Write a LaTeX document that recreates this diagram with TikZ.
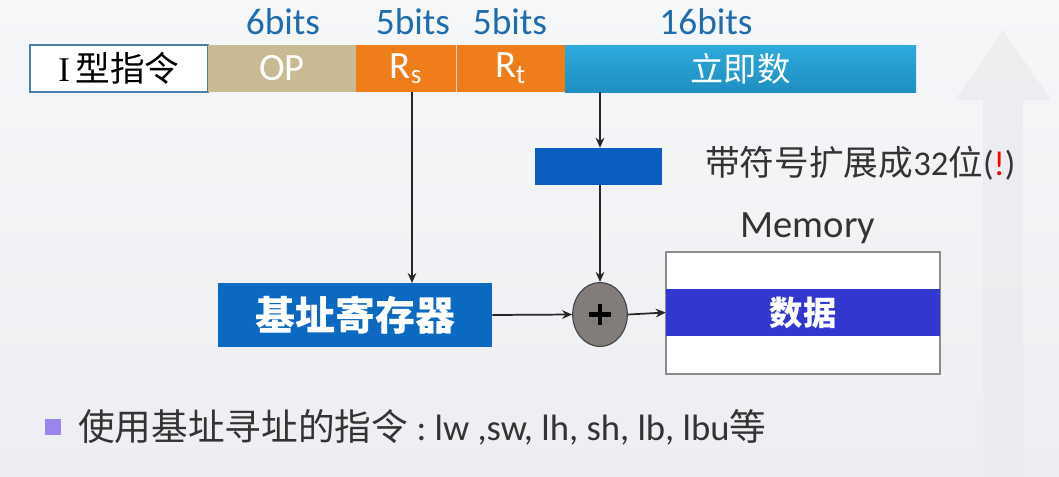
\documentclass[tikz,border=0pt]{standalone}
\usepackage{fontspec}
\setmainfont{Carlito}
\newfontfamily\cjk{Noto Sans CJK SC}
\newfontfamily\serifI{Liberation Serif}
\usetikzlibrary{arrows.meta,shapes.geometric}
\definecolor{bgtop}{HTML}{F6F7F9}
\definecolor{bgbot}{HTML}{EDEEF1}
\definecolor{bitblue}{HTML}{1F6CAE}
\definecolor{opkhaki}{HTML}{C8BA92}
\definecolor{rorange}{HTML}{EF7D1A}
\definecolor{immtop}{HTML}{2EAADC}
\definecolor{immbot}{HTML}{1F8EC0}
\definecolor{extblue}{HTML}{0B5EC0}
\definecolor{regblue}{HTML}{0B69C1}
\definecolor{datablue}{HTML}{3137CF}
\definecolor{plusgray}{HTML}{827C7A}
\definecolor{txt}{HTML}{333333}
\definecolor{bulletc}{HTML}{9B83F0}
\definecolor{iborder}{HTML}{4A7FA8}
\definecolor{wmark}{HTML}{E9EBEE}
\tikzset{
  field/.style={rectangle, inner sep=0pt, outer sep=0pt, minimum height=35.25pt, text=white, font=\fontsize{29}{30}\selectfont},
  bitlbl/.style={text=bitblue, font=\fontsize{28}{30}\selectfont, inner sep=0pt},
  conn/.style={line width=1.3pt, draw=black!85, -{Stealth[length=7.5pt,width=6.5pt]}},
}
\begin{document}
\begin{tikzpicture}[x=0.75pt,y=-0.75pt]
\shade[top color=bgtop,bottom color=bgbot] (0,0) rectangle (1059,476);
\useasboundingbox (0,0) rectangle (1059,476);
% faint watermark arrow
\fill[wmark, opacity=0.7] (983,476) -- (983,100) -- (955,100) -- (1003,30) -- (1051,100) -- (1023,100) -- (1023,476) -- cycle;
% instruction fields
\node[field, draw=iborder, line width=1pt, fill=white, text=black, minimum width=133.5pt, font=\fontsize{26}{28}\selectfont] (itype) at (119,68.5) {{\serifI I}\,\cjk 型指令};
\node[field, fill=opkhaki, minimum width=111pt] (op) at (282,68.5) {OP};
\node[field, fill=rorange, minimum width=75pt] (rs) at (406,68.5) {R\textsubscript{s}};
\node[field, fill=rorange, minimum width=81.75pt] (rt) at (510.5,68.5) {R\textsubscript{t}};
\node[field, top color=immtop, bottom color=immbot, minimum width=263.25pt, font=\cjk\fontsize{25}{27}\selectfont] (imm) at (740.5,68.5) {立即数};
\draw[white!85!black, line width=0.6pt] (rt.north west) -- (rt.south west);
% bit labels
\node[bitlbl] (b6) at (283,22) {6bits};
\node[bitlbl] (b5a) at (413,22) {5bits};
\node[bitlbl] (b5b) at (510,22) {5bits};
\node[bitlbl] (b16) at (706,22) {16bits};
% sign extension box
\node[rectangle, fill=extblue, minimum width=95.25pt, minimum height=27.75pt, inner sep=0pt] (ext) at (598.5,166.5) {};
\node[anchor=west, text=txt, inner sep=0pt, font=\fontsize{26}{28}\selectfont] (extlbl) at (705,163) {{\cjk 带符号扩展成}32{\cjk 位}(\textcolor{red}{!})};
% base register
\node[rectangle, fill=regblue, text=white, minimum width=205.5pt, minimum height=48pt, inner sep=0pt, font=\cjk\bfseries\fontsize{30}{32}\selectfont] (base) at (355,315) {基址寄存器};
% adder
\node[ellipse, fill=plusgray, draw=black!75, line width=0.8pt, minimum width=41pt, minimum height=48pt, inner sep=0pt] (add) at (600,314.5) {};
\draw[line width=3.6pt, black] ([xshift=-8pt]add.center) -- ([xshift=8pt]add.center) ([yshift=-8pt]add.center) -- ([yshift=8pt]add.center);
% memory
\node[rectangle, draw=black!45, fill=white, line width=0.8pt, minimum width=205.5pt, minimum height=91.5pt, inner sep=0pt] (mem) at (803,313) {};
\node[rectangle, fill=datablue, text=white, minimum width=205.5pt, minimum height=35.25pt, inner sep=0pt, font=\cjk\bfseries\fontsize{25}{27}\selectfont] (data) at (803,312.5) {数据};
\node[text=txt, inner sep=0pt, font=\fontsize{29}{30}\selectfont] (memlbl) at (808,228) {Memory};
% connectors
\coordinate (rsout) at (412,92);
\coordinate (rsin) at (412,283);
\draw[conn] (rsout) -- (rsin);
\coordinate (immout) at (600,92);
\draw[conn] (immout) -- (ext.north -| immout);
\draw[conn] (ext.south -| immout) -- (add.north);
\draw[conn] (base.east) -- (add.west);
\draw[conn] (add.east) -- (data.west);
% bullet line
\node[rectangle, fill=bulletc, minimum width=12pt, minimum height=12pt, inner sep=0pt] (bullet) at (53,427) {};
\node[anchor=west, text=txt, inner sep=0pt, font=\fontsize{27.5}{29}\selectfont] (note) at (78,427) {{\cjk 使用基址寻址的指令}\ :\ lw ,sw, lh, sh, lb, lbu{\cjk 等}};
\end{tikzpicture}
\end{document}
